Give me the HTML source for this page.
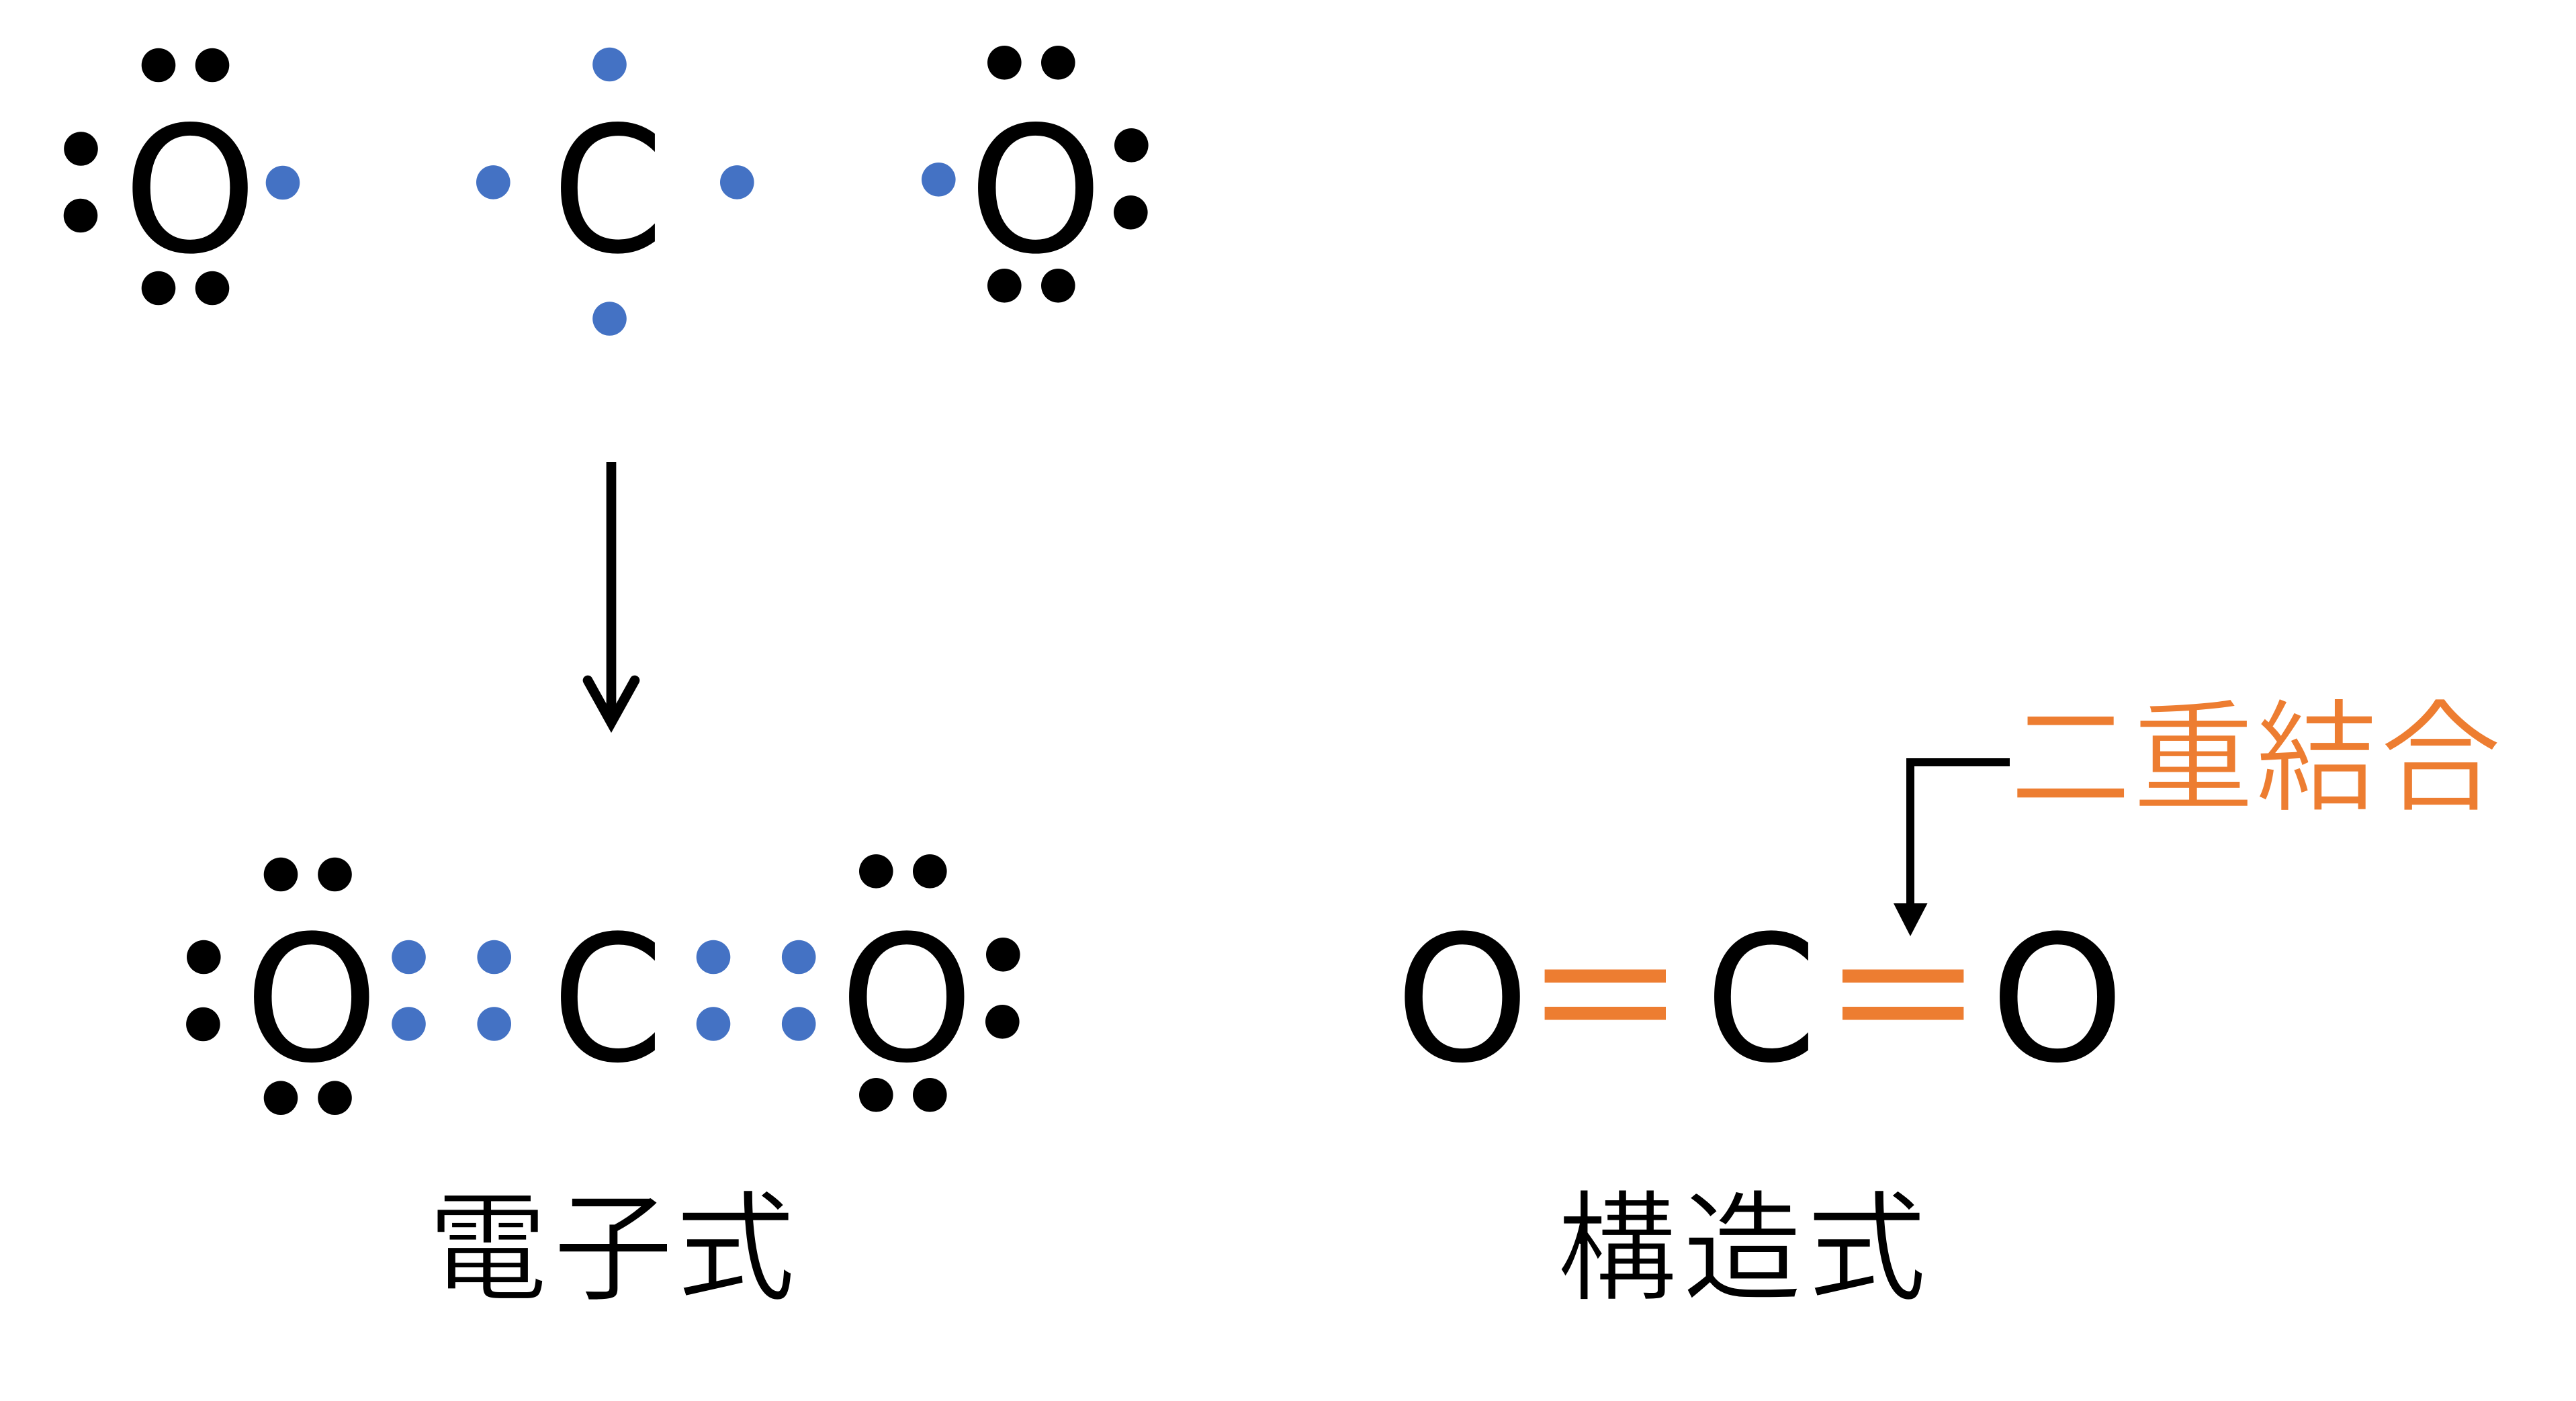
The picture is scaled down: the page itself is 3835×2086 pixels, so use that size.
<!DOCTYPE html>
<html><head><meta charset="utf-8"><style>
html,body{margin:0;padding:0;background:#fff;width:3835px;height:2086px;overflow:hidden}
svg{display:block}
.a{font-family:"DejaVu Sans",sans-serif;font-size:260px;fill:#000}
.j{font-family:"Liberation Sans","Noto Sans CJK JP",sans-serif;font-size:178px;stroke:#fff;stroke-width:2px}
.k{font-family:"Liberation Sans","Noto Sans CJK JP",sans-serif;font-size:181px;stroke:#fff;stroke-width:2px}
</style></head><body>
<svg width="3835" height="2086" viewBox="0 0 3835 2086" xmlns="http://www.w3.org/2000/svg">
<rect width="3835" height="2086" fill="#fff"/>
<text class="a" transform="translate(183.1,374) scale(.977,1)">O</text>
<text class="a" transform="translate(821.7,374) scale(.915,1)">C</text>
<text class="a" transform="translate(1441.8,374) scale(.977,1)">O</text>
<text class="a" transform="translate(363.8,1578.4) scale(.977,1)">O</text>
<text class="a" transform="translate(821.7,1578.4) scale(.915,1)">C</text>
<text class="a" transform="translate(1249.8,1578.4) scale(.977,1)">O</text>
<text class="a" transform="translate(2077.1,1578.4) scale(.977,1)">O</text>
<text class="a" transform="translate(2538.7,1578.4) scale(.915,1)">C</text>
<text class="a" transform="translate(2962.8,1578.4) scale(.977,1)">O</text>
<g fill="#000">
<circle cx="236" cy="97" r="25.3"/><circle cx="316" cy="97" r="25.3"/>
<circle cx="120.5" cy="221.5" r="25.3"/><circle cx="120" cy="321" r="25.3"/>
<circle cx="236" cy="429" r="25.3"/><circle cx="316" cy="429" r="25.3"/>
<circle cx="1495.3" cy="93.3" r="25.3"/><circle cx="1575.3" cy="93.3" r="25.3"/>
<circle cx="1684.3" cy="216.3" r="25.3"/><circle cx="1683.3" cy="316.3" r="25.3"/>
<circle cx="1495.3" cy="425.3" r="25.3"/><circle cx="1575.3" cy="425.3" r="25.3"/>
<circle cx="418" cy="1302" r="25.3"/><circle cx="498.5" cy="1302" r="25.3"/>
<circle cx="303.3" cy="1425" r="25.3"/><circle cx="302.4" cy="1525" r="25.3"/>
<circle cx="418" cy="1634.7" r="25.3"/><circle cx="498.5" cy="1634.7" r="25.3"/>
<circle cx="1304.3" cy="1297.3" r="25.3"/><circle cx="1384.3" cy="1297.3" r="25.3"/>
<circle cx="1493.3" cy="1421.3" r="25.3"/><circle cx="1492.3" cy="1521.3" r="25.3"/>
<circle cx="1304.3" cy="1630.3" r="25.3"/><circle cx="1384.3" cy="1630.3" r="25.3"/>
</g>
<g fill="#4472C4">
<circle cx="421" cy="272" r="25.3"/>
<circle cx="907.5" cy="96" r="25.3"/><circle cx="734.3" cy="271.4" r="25.3"/>
<circle cx="1097.3" cy="271.4" r="25.3"/><circle cx="907.5" cy="474.5" r="25.3"/>
<circle cx="1397.3" cy="267.3" r="25.3"/>
<circle cx="608.5" cy="1425" r="25.3"/><circle cx="735.7" cy="1425" r="25.3"/>
<circle cx="608.5" cy="1524.5" r="25.3"/><circle cx="735.7" cy="1524.5" r="25.3"/>
<circle cx="1062" cy="1425" r="25.3"/><circle cx="1189.2" cy="1425" r="25.3"/>
<circle cx="1062" cy="1524.5" r="25.3"/><circle cx="1189.2" cy="1524.5" r="25.3"/>
</g>
<g stroke="#000" fill="none">
<line x1="910" y1="688" x2="910" y2="1076" stroke-width="14.7"/>
<polyline points="875,1013 910,1076 945,1013" stroke-width="14.7" stroke-linecap="round" stroke-linejoin="miter" stroke-miterlimit="10"/>
<polyline points="2992,1135 2844,1135 2844,1350" stroke-width="12"/>
</g>
<polygon points="2819,1345 2869.5,1345 2844,1394" fill="#000"/>
<g fill="#ED7D31">
<rect x="2299.6" y="1443.5" width="180.4" height="19.5"/><rect x="2299.6" y="1499" width="180.4" height="19.5"/>
<rect x="2743" y="1443.5" width="180.4" height="19.5"/><rect x="2743" y="1499" width="180.4" height="19.5"/>
</g>
<text class="j" x="637 824 1006" y="1921" fill="#000">電子式</text>
<text class="j" x="2318 2505 2690" y="1921" fill="#000">構造式</text>
<text class="k" x="2992 3175 3358 3543" y="1192" fill="#ED7D31">二重結合</text>
</svg>
</body></html>
